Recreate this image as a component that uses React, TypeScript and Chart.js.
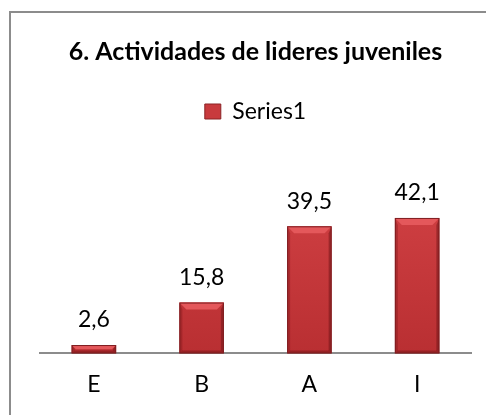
import React, { useEffect, useRef } from "react";
import { Chart, registerables } from "chart.js";

Chart.register(...registerables);

const titleText = "6. Actividades de lideres juveniles";
const seriesName = "Series1";
const categories = ["E", "B", "A", "I"];
const values = [2.6, 15.8, 39.5, 42.1];
const valueLabels = ["2,6", "15,8", "39,5", "42,1"];

const FONT = "Lato, 'Open Sans', sans-serif";

const frame = {
  id: "frame",
  beforeDraw(chart: any) {
    const ctx = chart.ctx;
    ctx.save();
    ctx.strokeStyle = "#8c8c8c";
    ctx.lineWidth = 2;
    ctx.strokeRect(10, 12, 500, 420);
    ctx.restore();
  },
};

const bevel = {
  id: "bevel",
  afterDatasetsDraw(chart: any) {
    const ctx = chart.ctx;
    const meta = chart.getDatasetMeta(0);
    meta.data.forEach((el: any, i: number) => {
      const { x, y, base, width } = el.getProps(["x", "y", "base", "width"], true);
      const l = x - width / 2;
      const r = x + width / 2;
      const t = Math.min(y, base);
      const b = Math.max(y, base);
      const h = b - t;
      const bv = Math.min(7, h / 2);
      const sv = Math.min(3, h / 2);
      ctx.save();
      ctx.fillStyle = "rgba(120,20,22,0.35)";
      ctx.beginPath();
      ctx.moveTo(l, t);
      ctx.lineTo(l + sv, t + bv);
      ctx.lineTo(l + sv, b - sv);
      ctx.lineTo(l, b);
      ctx.closePath();
      ctx.fill();
      ctx.fillStyle = "rgba(100,15,18,0.45)";
      ctx.beginPath();
      ctx.moveTo(r, t);
      ctx.lineTo(r - sv, t + bv);
      ctx.lineTo(r - sv, b - sv);
      ctx.lineTo(r, b);
      ctx.closePath();
      ctx.fill();
      ctx.fillStyle = "rgba(90,10,12,0.35)";
      ctx.beginPath();
      ctx.moveTo(l, b);
      ctx.lineTo(l + sv, b - sv);
      ctx.lineTo(r - sv, b - sv);
      ctx.lineTo(r, b);
      ctx.closePath();
      ctx.fill();
      ctx.fillStyle = "#E4585B";
      ctx.beginPath();
      ctx.moveTo(l, t);
      ctx.lineTo(r, t);
      ctx.lineTo(r - bv, t + bv);
      ctx.lineTo(l + bv, t + bv);
      ctx.closePath();
      ctx.fill();
      ctx.strokeStyle = "#7E1E21";
      ctx.lineWidth = 1;
      ctx.strokeRect(l + 0.5, t + 0.5, width - 1, h - 1);
      ctx.fillStyle = "#000";
      ctx.font = "23px " + FONT;
      ctx.textAlign = "center";
      ctx.textBaseline = "middle";
      ctx.fillText(valueLabels[i], x, t - 25);
      ctx.restore();
    });
  },
};

export default function App() {
  const ref = useRef<HTMLCanvasElement>(null);
  useEffect(() => {
    if (!ref.current) return;
    const chart = new Chart(ref.current, {
      type: "bar",
      data: {
        labels: categories,
        datasets: [
          {
            label: seriesName,
            data: values,
            backgroundColor: (c: any) => {
              const area = c.chart.chartArea;
              if (!area) return "#C93A3D";
              const g = c.chart.ctx.createLinearGradient(0, area.top, 0, area.bottom);
              g.addColorStop(0, "#D9474A");
              g.addColorStop(1, "#B92F32");
              return g;
            },
            borderWidth: 0,
            categoryPercentage: 1,
            barPercentage: 0.413,
          },
        ],
      },
      options: {
        responsive: false,
        animation: false,
        layout: { padding: { left: 40, right: 15, top: 10, bottom: 0 } },
        plugins: {
          title: {
            display: true,
            text: titleText,
            color: "#000",
            font: { family: FONT, size: 25, weight: "bold" },
            padding: { top: 27, bottom: 23 },
          },
          legend: {
            display: true,
            labels: {
              color: "#000",
              font: { family: FONT, size: 23 },
              boxWidth: 16,
              boxHeight: 15,
              padding: 10,
              generateLabels: () => [
                {
                  text: seriesName,
                  fillStyle: "#C83A3D",
                  strokeStyle: "#8B2325",
                  lineWidth: 1,
                  hidden: false,
                  datasetIndex: 0,
                },
              ],
            },
          },
          tooltip: { enabled: false },
        },
        scales: {
          x: {
            grid: { display: false, drawTicks: false },
            border: { display: true, color: "#8c8c8c", width: 2 },
            ticks: { color: "#000", font: { family: FONT, size: 23 }, padding: 17 },
          },
          y: { display: false, min: 0, max: 68.5 },
        },
      },
      plugins: [frame, bevel],
    });
    return () => chart.destroy();
  }, []);
  return (
    <div style={{ position: "absolute", left: 0, top: 0, width: 486, height: 415, background: "#fff" }}>
      <canvas ref={ref} width={486} height={415} />
    </div>
  );
}
